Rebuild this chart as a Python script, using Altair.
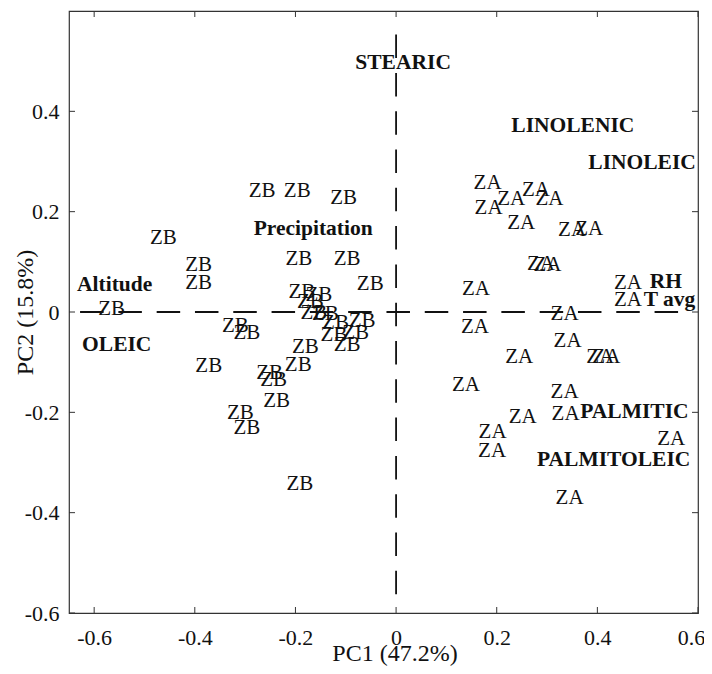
import altair as alt
import pandas as pd

FONT = "Liberation Serif"

# --- sample scores (label anchor = left edge, vertical middle) ---
za_x = [0.154, 0.156, 0.201, 0.250, 0.277, 0.221, 0.322, 0.356, 0.260, 0.273,
        0.131, 0.129, 0.307, 0.313, 0.217, 0.378, 0.390, 0.433, 0.433, 0.111,
        0.307, 0.224, 0.309, 0.164, 0.163, 0.519, 0.317]
za_y = [0.258, 0.207, 0.225, 0.243, 0.225, 0.178, 0.163, 0.165, 0.096, 0.093,
        0.045, -0.029, -0.003, -0.057, -0.089, -0.090, -0.089, 0.058, 0.023, -0.145,
        -0.160, -0.209, -0.203, -0.240, -0.277, -0.253, -0.370]

zb_x = [-0.489, -0.419, -0.419, -0.592, -0.346, -0.323, -0.399, -0.293, -0.223, -0.131,
        -0.220, -0.124, -0.078, -0.214, -0.180, -0.197, -0.190, -0.167, -0.147, -0.094,
        -0.150, -0.107, -0.124, -0.207, -0.221, -0.278, -0.270, -0.264, -0.336, -0.323,
        -0.218]
zb_y = [0.147, 0.093, 0.057, 0.005, -0.027, -0.041, -0.107, 0.242, 0.242, 0.227,
        0.105, 0.105, 0.055, 0.040, 0.033, 0.020, -0.002, -0.003, -0.022, -0.018,
        -0.045, -0.042, -0.065, -0.069, -0.105, -0.122, -0.135, -0.177, -0.202, -0.231,
        -0.343]

# --- variable loadings (bold labels) ---
var_names = ["STEARIC", "LINOLENIC", "LINOLEIC", "Precipitation", "Altitude",
             "OLEIC", "RH", "T avg", "PALMITIC", "PALMITOLEIC"]
var_x = [-0.081, 0.229, 0.382, -0.283, -0.634, -0.624, 0.504, 0.492, 0.366, 0.280]
var_y = [0.497, 0.370, 0.297, 0.165, 0.053, -0.065, 0.060, 0.023, -0.200, -0.295]

# --- reference (dashed) lines ---
hline_x = [-0.628, 0.585]
hline_y = [0.0, 0.0]
vline_x = [0.0, 0.0]
vline_y = [0.553, -0.59]

x_ticks = [-0.6, -0.4, -0.2, 0.0, 0.2, 0.4, 0.6]
y_ticks = [-0.6, -0.4, -0.2, 0.0, 0.2, 0.4]
x_domain = [-0.65, 0.6]
y_domain = [-0.6, 0.6]

W, H = 629, 602
TL = 6
FRAME = "#333333"

xs = alt.Scale(domain=x_domain, nice=False, zero=False)
ys = alt.Scale(domain=y_domain, nice=False, zero=False)

lbl_expr = "datum.value == 0 ? '0' : (datum.value < 0 ? '-' : '') + format(abs(datum.value), '.1f')"

x_axis = alt.Axis(values=x_ticks, labelExpr=lbl_expr, labelFont=FONT, labelFontSize=22,
                  labelColor="#111111", labelPadding=14, ticks=False, tickSize=0,
                  domain=False, grid=False, labelFlush=False, labelOverlap=False,
                  labelOffset=alt.ExprRef(expr="datum.value > 0.55 ? -7 : 0"),
                  title="PC1 (47.2%)", titleFont=FONT, titleFontSize=24,
                  titleFontWeight="normal", titleColor="#111111",
                  titleX=325.5, titleY=47, titleBaseline="alphabetic", titleAlign="center")
y_axis = alt.Axis(values=y_ticks, labelExpr=lbl_expr, labelFont=FONT, labelFontSize=22,
                  labelColor="#111111", labelPadding=10, ticks=False, tickSize=0,
                  domain=False, grid=False, labelFlush=False, labelOverlap=False,
                  title="PC2 (15.8%)", titleFont=FONT, titleFontSize=24,
                  titleFontWeight="normal", titleColor="#111111",
                  titleX=-37, titleY=301, titleAngle=270,
                  titleBaseline="alphabetic", titleAlign="center")

pts = pd.DataFrame({
    "x": za_x + zb_x,
    "y": za_y + zb_y,
    "label": ["ZA"] * len(za_x) + ["ZB"] * len(zb_x),
})
vars_df = pd.DataFrame({"x": var_x, "y": var_y, "label": var_names})

samples = alt.Chart(pts).mark_text(
    align="left", baseline="middle", font=FONT, fontSize=21, color="#111111"
).encode(
    x=alt.X("x:Q", scale=xs, axis=x_axis),
    y=alt.Y("y:Q", scale=ys, axis=y_axis),
    text="label:N",
)

variables = alt.Chart(vars_df).mark_text(
    align="left", baseline="middle", font=FONT, fontSize=21.5, fontWeight="bold",
    color="#111111"
).encode(
    x=alt.X("x:Q", scale=xs, axis=x_axis),
    y=alt.Y("y:Q", scale=ys, axis=y_axis),
    text="label:N",
)

lines_df = pd.DataFrame({
    "x1": [hline_x[0], vline_x[0]],
    "x2": [hline_x[1], vline_x[1]],
    "y1": [hline_y[0], vline_y[0]],
    "y2": [hline_y[1], vline_y[1]],
})
dashed = alt.Chart(lines_df).mark_rule(
    strokeDash=[23.5, 14.8], strokeWidth=1.8, color="#111111"
).encode(
    x=alt.X("x1:Q", scale=xs, axis=x_axis),
    x2="x2:Q",
    y=alt.Y("y1:Q", scale=ys, axis=y_axis),
    y2="y2:Q",
)

xt = pd.DataFrame({"t": x_ticks})
yt = pd.DataFrame({"t": y_ticks})
tick_style = dict(color=FRAME, strokeWidth=1)
xt_bottom = alt.Chart(xt).mark_rule(**tick_style).encode(
    x=alt.X("t:Q", scale=xs, axis=x_axis), y=alt.value(H), y2=alt.value(H - TL))
xt_top = alt.Chart(xt).mark_rule(**tick_style).encode(
    x=alt.X("t:Q", scale=xs, axis=x_axis), y=alt.value(0), y2=alt.value(TL))
yt_left = alt.Chart(yt).mark_rule(**tick_style).encode(
    y=alt.Y("t:Q", scale=ys, axis=y_axis), x=alt.value(0), x2=alt.value(TL))
yt_right = alt.Chart(yt).mark_rule(**tick_style).encode(
    y=alt.Y("t:Q", scale=ys, axis=y_axis), x=alt.value(W), x2=alt.value(W - TL))

chart = alt.layer(
    samples, dashed, xt_bottom, xt_top, yt_left, yt_right, variables
).properties(
    width=W, height=H,
    background="white",
    autosize=alt.AutoSizeParams(type="none"),
    padding={"left": 61, "top": 3, "right": 6, "bottom": 53},
).configure_view(
    stroke=FRAME, strokeWidth=1.2
)

chart.save("out.html", embed_options={"renderer": "svg", "actions": False})
